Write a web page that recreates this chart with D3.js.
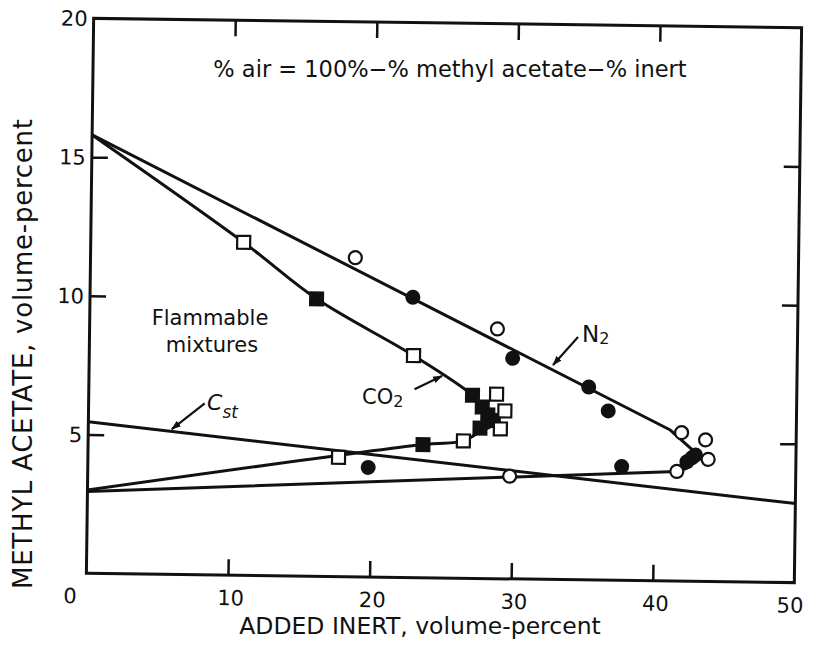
<!DOCTYPE html>
<html><head><meta charset="utf-8">
<script src="https://cdn.jsdelivr.net/npm/d3@7"></script>
<style>
body{margin:0;background:#fff}
text{font-family:"DejaVu Sans",sans-serif;fill:#111}
</style>
</head><body>
<svg id="c" width="819" height="649"></svg>
<script>
// ---- data ----
const xTickLabels = [0, 10, 20, 30, 40, 50];
const yTickLabels = [5, 10, 15, 20];
const innerTicksX = [10, 20, 30, 40];
const innerTicksY = [5, 10, 15];

// N2 (circles)
const n2OpenX   = [18.7, 28.8, 41.9, 43.6, 43.8, 41.6, 29.8];
const n2OpenY   = [11.5, 9.0, 5.35, 5.1, 4.4, 3.95, 3.7];
const n2FilledX = [22.8, 29.9, 35.3, 36.7, 42.3, 42.65, 42.9, 37.7, 19.8];
const n2FilledY = [10.1, 7.95, 6.95, 6.1, 4.3, 4.45, 4.55, 4.1, 3.95];
const n2CurveX  = [0, 41.1, 42.7, 43.0, 42.3, 41.6, 0];
const n2CurveY  = [15.8, 5.44, 4.73, 4.45, 4.07, 3.95, 2.95];

// CO2 (squares)
const co2OpenX   = [10.8, 22.9, 28.8, 29.4, 29.1, 26.5, 17.7];
const co2OpenY   = [12.0, 8.0, 6.65, 6.05, 5.4, 4.95, 4.3];
const co2FilledX = [16.0, 27.1, 27.8, 28.2, 28.6, 27.66, 23.65];
const co2FilledY = [10.0, 6.6, 6.18, 5.9, 5.7, 5.42, 4.8];
const co2CurveX  = [0, 10.8, 16.0, 22.9, 27.1, 28.4, 28.7, 27.7, 26.5, 23.65, 0];
const co2CurveY  = [15.8, 12.0, 10.0, 8.0, 6.6, 5.9, 5.6, 5.3, 4.95, 4.8, 3.0];

// stoichiometric line
const cstX = [0, 50];
const cstY = [5.46, 2.85];

// arrows (data units): tail -> head
const arrows = [
  {tx: 34.5, ty: 8.75, hx: 32.76, hy: 7.73},  // N2
  {tx: 23.0, ty: 6.79, hx: 24.93, hy: 7.28},  // CO2
  {tx: 8.2,  ty: 6.18, hx: 5.9,   hy: 5.24}   // Cst
];

// ---- layout ----
const L = 90, R = 798, T = 23, B = 578;
const x = d3.scaleLinear().domain([0, 50]).range([L, R]);
const y = d3.scaleLinear().domain([0, 20]).range([B, T]);
const svg = d3.select("#c");

svg.append("defs").append("marker")
  .attr("id", "ah").attr("viewBox", "0 0 10 10").attr("refX", 9).attr("refY", 5)
  .attr("markerWidth", 4.5).attr("markerHeight", 4.5).attr("orient", "auto")
  .append("path").attr("d", "M0,1.5L10,5L0,8.5Z").attr("fill", "#111");

const g = svg.append("g").attr("transform", "rotate(0.75,444,300)");

// frame
g.append("rect").attr("x", L).attr("y", T).attr("width", R - L).attr("height", B - T)
  .attr("fill", "none").attr("stroke", "#111").attr("stroke-width", 3);

// inward ticks via d3 axes
const tk = 16;
const axB = g.append("g").attr("transform", `translate(0,${B})`)
  .call(d3.axisBottom(x).tickValues(innerTicksX).tickSize(-tk).tickFormat(""));
const axT = g.append("g").attr("transform", `translate(0,${T})`)
  .call(d3.axisTop(x).tickValues(innerTicksX).tickSize(-tk).tickFormat(""));
const axL = g.append("g").attr("transform", `translate(${L},0)`)
  .call(d3.axisLeft(y).tickValues(innerTicksY).tickSize(-tk).tickFormat(""));
const axR = g.append("g").attr("transform", `translate(${R},0)`)
  .call(d3.axisRight(y).tickValues(innerTicksY).tickSize(-tk).tickFormat(""));
[axB, axT, axL, axR].forEach(a => {
  a.select(".domain").remove();
  a.selectAll("line").attr("stroke", "#111").attr("stroke-width", 2.5);
});

// tick labels
g.selectAll(".xl").data(xTickLabels).join("text")
  .attr("x", d => x(d) + (d === 0 ? -16 : (d === 50 ? -4 : 3)))
  .attr("y", B + 30).attr("text-anchor", "middle")
  .attr("font-size", 21).text(d => d);
g.selectAll(".yl").data(yTickLabels).join("text")
  .attr("x", L - 6).attr("y", d => y(d)).attr("dy", "0.36em")
  .attr("text-anchor", "end").attr("font-size", 21).text(d => d);

// curves
const zip = (a, b) => a.map((v, i) => [v, b[i]]);
const lin = d3.line().x(d => x(d[0])).y(d => y(d[1]));
const smooth = d3.line().x(d => x(d[0])).y(d => y(d[1])).curve(d3.curveCatmullRom.alpha(0.5));
g.append("path").datum(zip(cstX, cstY)).attr("d", lin)
  .attr("fill", "none").attr("stroke", "#111").attr("stroke-width", 3);
g.append("path").datum(zip(n2CurveX, n2CurveY)).attr("d", lin)
  .attr("fill", "none").attr("stroke", "#111").attr("stroke-width", 3).attr("stroke-linejoin", "round");
g.append("path").datum(zip(co2CurveX, co2CurveY)).attr("d", smooth)
  .attr("fill", "none").attr("stroke", "#111").attr("stroke-width", 3).attr("stroke-linejoin", "round");

// arrows
g.selectAll(".arr").data(arrows).join("line")
  .attr("x1", d => x(d.tx)).attr("y1", d => y(d.ty))
  .attr("x2", d => x(d.hx)).attr("y2", d => y(d.hy))
  .attr("stroke", "#111").attr("stroke-width", 2.2).attr("marker-end", "url(#ah)");

// markers
g.selectAll(".n2o").data(zip(n2OpenX, n2OpenY)).join("circle")
  .attr("cx", d => x(d[0])).attr("cy", d => y(d[1])).attr("r", 6.5)
  .attr("fill", "#fff").attr("stroke", "#111").attr("stroke-width", 2.2);
g.selectAll(".n2f").data(zip(n2FilledX, n2FilledY)).join("circle")
  .attr("cx", d => x(d[0])).attr("cy", d => y(d[1])).attr("r", 7.5)
  .attr("fill", "#111");
const so = 13, sf = 15;
g.selectAll(".co2f").data(zip(co2FilledX, co2FilledY)).join("rect")
  .attr("x", d => x(d[0]) - sf / 2).attr("y", d => y(d[1]) - sf / 2)
  .attr("width", sf).attr("height", sf).attr("fill", "#111");
g.selectAll(".co2o").data(zip(co2OpenX, co2OpenY)).join("rect")
  .attr("x", d => x(d[0]) - so / 2).attr("y", d => y(d[1]) - so / 2)
  .attr("width", so).attr("height", so)
  .attr("fill", "#fff").attr("stroke", "#111").attr("stroke-width", 2.2);

// texts (unrotated)
svg.append("text").attr("x", 450).attr("y", 77).attr("text-anchor", "middle")
  .attr("font-size", 22.5).text("% air = 100%\u2212% methyl acetate\u2212% inert");
svg.append("text").attr("x", 210).attr("y", 325).attr("text-anchor", "middle")
  .attr("font-size", 21).text("Flammable");
svg.append("text").attr("x", 212).attr("y", 352).attr("text-anchor", "middle")
  .attr("font-size", 21).text("mixtures");

const n2t = svg.append("text").attr("x", 582).attr("y", 342).attr("font-size", 23);
n2t.append("tspan").text("N");
n2t.append("tspan").attr("font-size", 16).attr("dy", 2).text("2");

const co2t = svg.append("text").attr("x", 362).attr("y", 404).attr("font-size", 21);
co2t.append("tspan").text("CO");
co2t.append("tspan").attr("font-size", 16).attr("dy", 3).text("2");

const cst = svg.append("text").attr("x", 207).attr("y", 410).attr("font-size", 22).attr("font-style", "italic");
cst.append("tspan").text("C");
cst.append("tspan").attr("font-size", 17).attr("dy", 8).text("st");

// axis titles
svg.append("text").attr("x", 420).attr("y", 634).attr("text-anchor", "middle")
  .attr("font-size", 23.5).text("ADDED INERT, volume-percent");
svg.append("text").attr("transform", "translate(32,354) rotate(-90)")
  .attr("text-anchor", "middle").attr("font-size", 26)
  .attr("textLength", 470).attr("lengthAdjust", "spacing")
  .text("METHYL ACETATE, volume-percent");
</script>
</body></html>
